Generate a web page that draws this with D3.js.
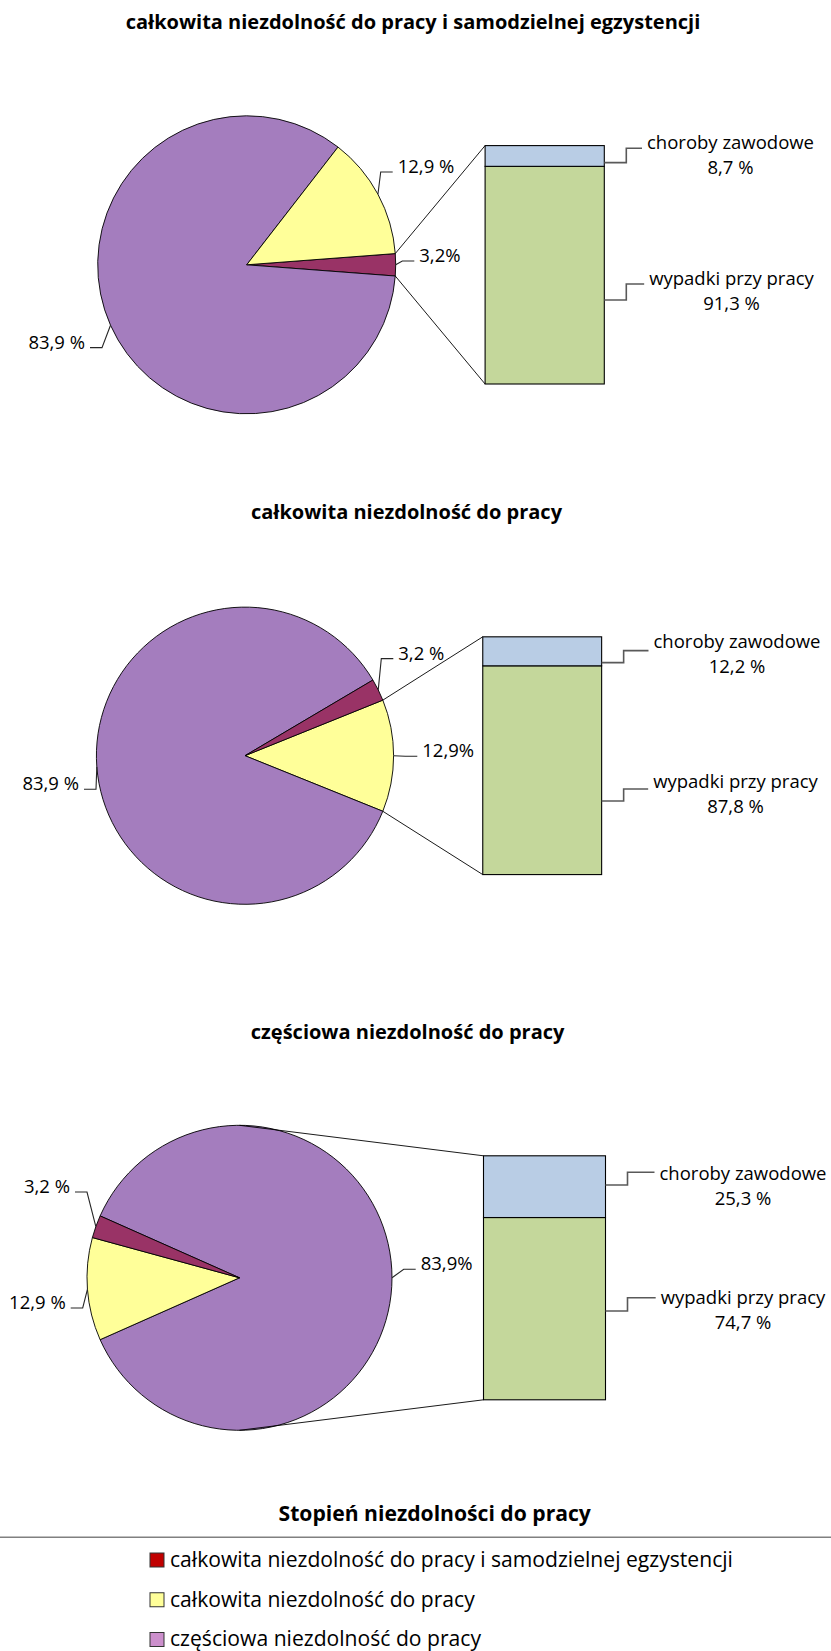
<!DOCTYPE html>
<html><head><meta charset="utf-8">
<script src="https://cdn.jsdelivr.net/npm/d3@7"></script>
<style>
body{margin:0;background:#fff}
svg{display:block}
text{font-family:"Open Sans",sans-serif;fill:#000}
</style>
</head><body>
<svg id="chart" width="831" height="1651"></svg>
<script>
// ---------------- data ----------------
const categories = [
  "całkowita niezdolność do pracy i samodzielnej egzystencji",
  "całkowita niezdolność do pracy",
  "częściowa niezdolność do pracy"
];
const legendTitle = "Stopień niezdolności do pracy";
const sliceColors  = ["#993366", "#FFFF99", "#A47DBE"];
const legendColors = ["#C00000", "#FFFF99", "#CC8FCC"];

// percentages printed on the pies
const pieLabelValues = [3.2, 12.9, 83.9];
const pieLabelSep1 = ["", " ", " "];
const pieLabelSep2 = [" ", "", " "];
const pieLabelSep3 = [" ", " ", ""];

// slice shares as drawn in each pie
const pieShares1 = [2.4, 13.3, 84.3];
const pieShares2 = [2.4, 12.2, 85.4];
const pieShares3 = [2.4, 10.9, 86.7];

// clockwise slice order, starting with the slice that is broken out into the bar
const sliceOrder1 = [0, 2, 1];
const sliceOrder2 = [1, 2, 0];
const sliceOrder3 = [2, 1, 0];

// bar breakdown: [wypadki przy pracy, choroby zawodowe]
const barCategories = ["wypadki przy pracy", "choroby zawodowe"];
const barColors = ["#C4D79B", "#B9CDE5"];
const barValues1 = [91.3, 8.7];
const barValues2 = [87.8, 12.2];
const barValues3 = [74.7, 25.3];

// ---------------- layout ----------------
const panels = [
  { title: categories[0], titleX: 413, titleY: 28.5,
    cx: 246.7, cy: 264.8, r: 149,
    shares: pieShares1, order: sliceOrder1, seps: pieLabelSep1, bars: barValues1,
    pieLab: [[419.3, 255.7, "start"], [397.7, 166.7, "start"], [85, 342.3, "end"]],
    barLabX: [731.5, 730.5], barLabBase: [9.8, -6.7], barLeadDy: [8.8, -7.7], barAnchorDy: [24.8, 6.7] },
  { title: categories[1], titleX: 406.5, titleY: 518.5,
    cx: 245, cy: 755.7, r: 148.6,
    shares: pieShares2, order: sliceOrder2, seps: pieLabelSep2, bars: barValues2,
    pieLab: [[398.3, 653.3, "start"], [422.3, 751, "start"], [79, 784, "end"]],
    barLabX: [735.5, 737], barLabBase: [17.5, -3.7], barLeadDy: [18.8, -0.7], barAnchorDy: [30.8, 11.3] },
  { title: categories[2], titleX: 407.6, titleY: 1039.3,
    cx: 239.5, cy: 1277.8, r: 152.5,
    shares: pieShares3, order: sliceOrder3, seps: pieLabelSep3, bars: barValues3,
    pieLab: [[70, 1186.7, "end"], [65.7, 1302.7, "end"], [420.7, 1264, "start"]],
    barLabX: [743, 743], barLabBase: [-4.35, -6.65], barLeadDy: [-10.95, -14.35], barAnchorDy: [2.35, -1.65] }
];

const svg = d3.select("#chart");
const fmt = v => d3.format(".1f")(v).replace(".", ",");
const labelSize = 18.5;

function fitWidth(sel, w) {
  const cur = sel.node().getComputedTextLength();
  const fs = parseFloat(sel.attr("font-size"));
  sel.attr("font-size", fs * w / cur);
  return fs * w / cur;
}

let titleSize = null;
panels.forEach((p, k) => {
  const g = svg.append("g");
  // title
  const t = g.append("text").attr("x", p.titleX).attr("y", p.titleY)
    .attr("text-anchor", "middle").attr("font-weight", "bold").attr("font-size", 20)
    .text(p.title);
  if (k === 0) titleSize = fitWidth(t, 575); else t.attr("font-size", titleSize);

  // pie
  const total = d3.sum(p.shares);
  const split = p.order[0];
  const a0 = Math.PI / 2 - (p.shares[split] / total) * Math.PI;
  const pie = d3.pie().sort(null).value(i => p.shares[i])
    .startAngle(a0).endAngle(a0 + 2 * Math.PI);
  const arcs = pie(p.order);
  const arc = d3.arc().innerRadius(0).outerRadius(p.r);
  const pg = g.append("g").attr("transform", `translate(${p.cx},${p.cy})`);
  pg.selectAll("path").data(arcs).join("path")
    .attr("d", arc)
    .attr("fill", d => sliceColors[d.data])
    .attr("stroke", "#000").attr("stroke-width", 0.9).attr("stroke-linejoin", "round");

  const pt = a => [p.cx + p.r * Math.sin(a), p.cy - p.r * Math.cos(a)];

  // bar (pie of bar)
  const barX = p.cx + 1.6 * p.r, barW = 0.8 * p.r;
  const y = d3.scaleLinear().domain([0, 100]).range([p.cy + 0.8 * p.r, p.cy - 0.8 * p.r]);
  const stackRow = {}; barCategories.forEach((c, i) => stackRow[c] = p.bars[i]);
  const stacked = d3.stack().keys(barCategories)([stackRow]);

  // connector lines
  const sa = arcs[0];
  let top, bot;
  if (sa.endAngle - sa.startAngle < Math.PI) {
    const p1 = pt(sa.startAngle), p2 = pt(sa.endAngle);
    [top, bot] = p1[1] < p2[1] ? [p1, p2] : [p2, p1];
  } else {
    top = [p.cx, p.cy - p.r]; bot = [p.cx, p.cy + p.r];
  }
  g.append("line").attr("x1", top[0]).attr("y1", top[1]).attr("x2", barX).attr("y2", y(100))
    .attr("stroke", "#000").attr("stroke-width", 0.9);
  g.append("line").attr("x1", bot[0]).attr("y1", bot[1]).attr("x2", barX).attr("y2", y(0))
    .attr("stroke", "#000").attr("stroke-width", 0.9);

  g.selectAll("rect.seg").data(stacked).join("rect").attr("class", "seg")
    .attr("x", barX).attr("width", barW)
    .attr("y", d => y(d[0][1])).attr("height", d => y(d[0][0]) - y(d[0][1]))
    .attr("fill", (d, i) => barColors[i])
    .attr("stroke", "#000").attr("stroke-width", 1.1);

  // bar labels
  stacked.forEach((s, i) => {
    const sc = (y(s[0][0]) + y(s[0][1])) / 2;
    const base = sc + p.barLabBase[i];
    const tx = g.append("text").attr("x", p.barLabX[i]).attr("y", base)
      .attr("text-anchor", "middle").attr("font-size", labelSize).text(barCategories[i]);
    g.append("text").attr("x", p.barLabX[i]).attr("y", base + 25)
      .attr("text-anchor", "middle").attr("font-size", labelSize).text(fmt(p.bars[i]) + " %");
    const left = tx.node().getBBox().x;
    const ly = sc + p.barLeadDy[i], ay = sc + p.barAnchorDy[i];
    const ex = barX + barW + 22;
    g.append("path")
      .attr("d", `M${barX + barW},${ay}H${ex}V${ly}H${left - 5}`)
      .attr("fill", "none").attr("stroke", "#595959").attr("stroke-width", 1.6);
  });

  // pie labels with leader lines
  arcs.forEach(d => {
    const i = d.data;
    const [lx, lyc, anchor] = p.pieLab[i];
    g.append("text").attr("x", lx).attr("y", lyc + 6.3)
      .attr("text-anchor", anchor).attr("font-size", labelSize)
      .text(fmt(pieLabelValues[i]) + p.seps[i] + "%");
    const mid = (d.startAngle + d.endAngle) / 2;
    const ap = pt(mid);
    const hy = lyc + 5.3;
    const endX = anchor === "start" ? lx - 5 : lx + 5;
    const elbX = anchor === "start" ? endX - 12 : endX + 12;
    g.append("path").attr("d", `M${ap[0]},${ap[1]}L${elbX},${hy}H${endX}`)
      .attr("fill", "none").attr("stroke", "#262626").attr("stroke-width", 1.1);
  });
});

// ---------------- legend ----------------
const lt = svg.append("text").attr("x", 434.7).attr("y", 1520.7)
  .attr("text-anchor", "middle").attr("font-weight", "bold").attr("font-size", 20)
  .text(legendTitle);
fitWidth(lt, 312.7);
svg.append("line").attr("x1", 0).attr("x2", 831).attr("y1", 1537.3).attr("y2", 1537.3)
  .attr("stroke", "#808080").attr("stroke-width", 1.5);

const legY = d3.scalePoint().domain(categories).range([1560, 1639.5]);
const lg = svg.append("g").selectAll("g").data(categories).join("g")
  .attr("transform", d => `translate(0,${legY(d)})`);
lg.append("rect").attr("x", 150).attr("y", -7).attr("width", 14).attr("height", 14)
  .attr("fill", (d, i) => legendColors[i]).attr("stroke", "#333").attr("stroke-width", 1);
const legTexts = lg.append("text").attr("x", 170).attr("y", 6.8).attr("font-size", 20).text(d => d);
const legSize = fitWidth(d3.select(legTexts.nodes()[0]), 563);
legTexts.attr("font-size", legSize);
</script>
</body></html>
